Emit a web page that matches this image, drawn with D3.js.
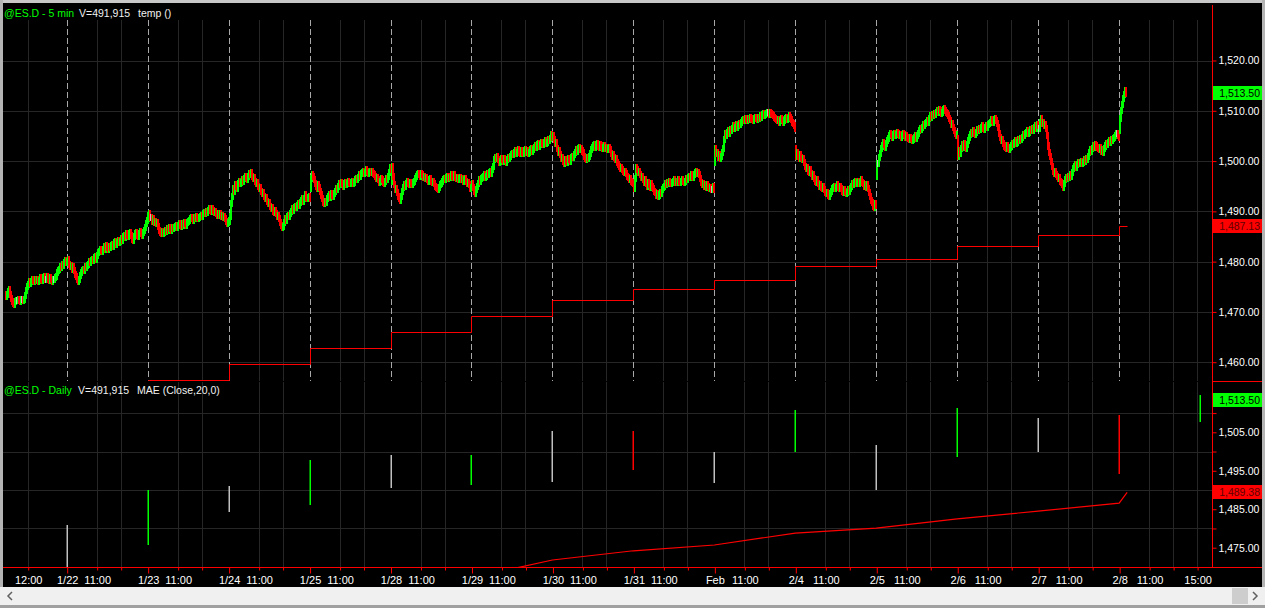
<!DOCTYPE html>
<html><head><meta charset="utf-8">
<script src="https://cdn.jsdelivr.net/npm/d3@7"></script>
<style>
html,body{margin:0;padding:0;background:#000;overflow:hidden}
svg{display:block}
text{font-family:"Liberation Sans",Arial,sans-serif}
</style></head><body>
<svg id="c" width="1265" height="608"></svg>
<script>
// ---------------- DATA ----------------
const sessionDays = ["1/21","1/22","1/23","1/24","1/25","1/28","1/29","1/30","1/31","Feb","2/4","2/5","2/6","2/7","2/8"];
const firstBar = [19,0,0,0,0,0,0,0,0,0,0,0,0,0,0];
const dayOpen = [1473.5,1480.0,1488.5,1488.0,1494.5,1496.0,1495.0,1504.75,1495.5,1499.75,1502.5,1497.0,1504.5,1506.5,1506.0];
const c0121 = [1473.0,1473.5,1474.0,1474.5,1473.5,1472.75,1472.0,1471.75,1471.5,1472.0,
1472.25,1472.25,1472.5,1472.25,1472.0,1472.5,1472.5,1472.25,1472.5,1473.25,
1474.25,1475.0,1475.5,1476.0,1475.75,1476.0,1476.5,1476.25,1476.0,1476.5,
1476.25,1476.5,1476.0,1476.25,1476.75,1476.5,1476.25,1476.75,1477.0,1476.5,
1476.5,1477.0,1476.5,1476.25,1476.75,1476.5,1476.0,1476.5,1476.5,1476.75,
1477.0,1477.75,1478.25,1478.5,1479.0,1478.75,1479.5,1479.25,1479.75,1480.25,1479.75,1480.0];
const c0122 = [1480.5,1479.5,1479.0,1479.25,1478.5,1479.0,1478.25,1477.5,1477.0,1476.5,
1476.0,1476.5,1477.25,1477.75,1478.25,1478.5,1478.25,1479.0,1478.75,1479.25,
1479.5,1480.0,1479.75,1480.25,1480.5,1480.25,1480.75,1481.0,1480.5,1481.25,
1481.75,1482.0,1482.5,1482.25,1482.0,1482.5,1483.0,1482.5,1483.25,1482.75,
1482.5,1483.0,1482.75,1483.25,1483.5,1483.0,1483.75,1484.0,1483.5,1483.75,
1484.25,1483.75,1484.0,1484.5,1484.25,1485.0,1485.25,1484.75,1485.5,1485.25,
1485.0,1485.5,1485.75,1485.25,1484.5,1484.25,1485.0,1485.5,1485.75,1485.25,
1485.0,1485.5,1486.0,1485.5,1485.25,1485.75,1486.25,1486.75,1487.5,1488.25,1489.25];
const c0123 = [1489.5,1488.75,1488.75,1488.0,1488.5,1487.75,1488.0,1487.5,1487.75,1487.0,
1486.25,1485.75,1485.5,1486.0,1485.5,1485.75,1486.25,1486.0,1486.5,1486.25,
1486.75,1486.5,1486.25,1486.75,1486.5,1486.75,1487.0,1487.25,1486.75,1487.25,
1487.5,1487.25,1487.0,1487.5,1487.25,1487.75,1487.5,1487.25,1487.75,1488.0,
1488.25,1488.5,1488.75,1488.5,1488.25,1488.75,1488.5,1489.0,1488.75,1488.5,
1488.75,1489.0,1489.25,1489.0,1489.5,1489.75,1489.5,1490.0,1489.75,1490.25,
1490.5,1490.25,1490.0,1490.5,1490.25,1489.75,1490.0,1489.5,1489.25,1489.5,
1489.25,1489.5,1489.0,1489.25,1488.75,1489.0,1488.5,1488.0,1487.5,1487.75,1488.25];
const c0124 = [1489.0,1491.5,1493.0,1494.5,1494.0,1495.25,1495.0,1494.5,1495.5,1496.0,
1495.5,1495.75,1496.25,1496.0,1496.5,1497.0,1496.75,1496.25,1497.0,1497.5,
1497.25,1497.75,1497.0,1496.5,1496.75,1496.0,1495.5,1495.75,1495.0,1494.5,
1494.75,1494.0,1493.5,1493.75,1493.0,1492.5,1492.75,1492.0,1491.5,1491.75,
1491.0,1490.5,1490.75,1490.0,1489.75,1490.25,1489.5,1489.0,1489.25,1488.5,
1487.75,1487.25,1486.75,1487.0,1487.75,1488.5,1488.25,1489.0,1489.25,1489.0,
1489.5,1490.0,1490.5,1490.25,1490.75,1491.0,1490.75,1491.25,1491.5,1491.25,
1491.75,1492.25,1492.5,1492.0,1492.5,1493.25,1492.75,1492.5,1492.75,1493.0,1492.5];
const c0125 = [1496.5,1497.25,1497.0,1496.25,1495.5,1495.0,1494.5,1495.25,1494.75,1494.0,
1493.25,1492.5,1491.75,1491.5,1492.0,1491.75,1492.5,1493.0,1493.25,1492.75,
1493.5,1493.25,1493.0,1493.5,1494.0,1494.5,1494.25,1495.0,1495.5,1495.25,
1495.75,1495.5,1495.0,1495.5,1495.75,1495.25,1495.5,1496.0,1495.75,1495.5,
1495.75,1496.0,1495.5,1495.75,1496.25,1496.5,1496.25,1496.75,1497.25,1497.0,
1497.5,1497.75,1498.0,1497.5,1497.75,1498.25,1498.0,1497.5,1497.75,1498.0,
1497.75,1498.0,1497.5,1497.25,1497.0,1496.5,1496.75,1496.25,1495.75,1496.0,
1496.5,1496.25,1495.75,1495.5,1496.0,1496.5,1496.25,1497.0,1497.75,1498.75,1498.25];
const c0128 = [1499.0,1497.0,1495.25,1494.25,1494.5,1493.75,1493.0,1492.5,1492.25,1493.0,
1494.0,1494.75,1495.25,1495.0,1495.5,1496.0,1495.5,1495.25,1495.75,1495.5,
1495.25,1495.75,1496.0,1496.5,1497.0,1497.25,1497.5,1497.25,1497.0,1497.5,
1497.25,1496.75,1497.0,1496.5,1496.75,1496.25,1496.0,1496.25,1496.5,1496.0,
1495.75,1496.0,1495.5,1495.0,1494.75,1494.5,1494.25,1494.75,1495.25,1495.5,
1496.0,1496.25,1496.5,1496.25,1496.75,1497.0,1496.5,1496.75,1497.0,1496.75,
1497.25,1497.0,1496.75,1497.25,1496.75,1496.5,1496.75,1496.25,1496.5,1496.75,
1496.25,1496.5,1496.0,1496.25,1496.5,1496.0,1495.5,1495.75,1495.25,1494.5,1494.75];
const c0129 = [1495.5,1494.75,1494.0,1493.5,1494.25,1495.0,1495.5,1496.25,1496.0,1496.5,
1496.75,1497.0,1497.25,1496.75,1497.0,1497.5,1497.25,1497.75,1498.0,1497.5,
1498.25,1499.0,1500.25,1500.75,1500.5,1501.0,1500.25,1499.75,1500.0,1500.5,
1500.25,1500.0,1500.5,1500.25,1499.75,1500.25,1500.75,1500.5,1501.0,1501.25,
1501.5,1501.25,1501.75,1502.0,1501.5,1501.75,1502.25,1501.75,1501.5,1502.0,
1501.75,1501.5,1502.0,1502.25,1501.75,1502.0,1501.5,1501.75,1502.25,1502.5,
1502.0,1502.25,1502.75,1503.0,1502.75,1503.25,1503.5,1503.0,1503.25,1503.75,
1503.5,1503.25,1503.75,1504.0,1503.5,1503.75,1504.25,1504.0,1504.5,1505.25,1504.75];
const c0130 = [1505.0,1504.25,1503.5,1503.75,1502.5,1501.75,1502.0,1501.25,1500.5,1500.75,
1500.0,1499.5,1500.25,1500.0,1499.75,1500.5,1500.25,1500.0,1500.75,1501.0,
1500.75,1501.25,1501.75,1502.25,1502.0,1502.5,1502.75,1502.25,1502.5,1502.0,
1501.75,1501.0,1500.5,1500.25,1500.75,1500.5,1501.0,1501.5,1502.25,1502.75,
1503.0,1503.25,1502.75,1503.25,1503.5,1503.0,1502.75,1503.25,1503.0,1502.5,
1502.75,1503.0,1502.5,1502.75,1502.25,1502.5,1502.75,1502.25,1501.5,1501.0,
1501.25,1500.75,1500.25,1500.5,1499.75,1499.25,1499.0,1498.5,1498.75,1498.25,
1498.0,1497.75,1498.0,1497.5,1497.0,1496.75,1496.25,1496.5,1496.0,1495.75,1495.5];
const c0131 = [1494.5,1496.5,1498.75,1498.25,1497.75,1498.0,1497.25,1496.75,1497.0,1496.25,
1495.75,1496.25,1495.5,1495.0,1495.75,1495.25,1494.75,1495.5,1495.0,1494.5,
1494.0,1493.75,1493.25,1493.5,1493.0,1493.25,1493.75,1493.5,1494.25,1494.75,
1495.0,1495.5,1495.25,1495.75,1495.5,1496.0,1495.75,1495.5,1495.75,1496.0,
1496.25,1495.75,1496.0,1495.75,1496.25,1496.0,1495.75,1496.0,1496.25,1496.0,
1495.75,1496.0,1496.5,1496.25,1496.75,1497.0,1496.75,1497.25,1497.0,1496.75,
1497.25,1497.75,1498.0,1497.5,1497.75,1497.25,1496.5,1495.75,1495.25,1495.5,
1495.0,1495.25,1494.75,1495.25,1495.0,1494.5,1494.75,1494.25,1494.25,1495.0,1494.25];
const c0201 = [1502.5,1501.5,1501.75,1500.75,1501.25,1500.5,1501.0,1501.75,1502.5,1504.25,
1505.5,1505.0,1505.75,1506.0,1505.5,1506.25,1506.0,1506.5,1507.0,1506.5,
1506.75,1507.25,1506.75,1507.0,1507.5,1507.25,1507.75,1508.0,1508.25,1508.0,
1508.5,1508.25,1508.0,1508.5,1508.25,1508.75,1508.5,1508.25,1508.0,1508.5,
1508.75,1508.5,1508.25,1508.75,1508.5,1509.0,1508.75,1509.25,1509.5,1509.0,
1509.25,1509.5,1509.75,1509.75,1509.25,1509.75,1509.5,1509.25,1509.0,1508.75,
1508.5,1508.25,1508.0,1508.25,1507.75,1508.0,1508.5,1508.25,1507.75,1508.0,
1508.5,1508.75,1508.25,1508.5,1509.0,1508.75,1508.25,1507.75,1507.5,1507.0,1506.5];
const c0204 = [1501.0,1501.75,1501.0,1500.5,1501.25,1500.75,1500.25,1500.5,1499.75,1499.0,
1498.5,1498.75,1498.0,1497.75,1498.25,1497.5,1497.0,1497.25,1496.5,1496.0,
1495.75,1496.25,1495.5,1495.0,1495.25,1494.75,1494.5,1495.0,1494.25,1493.75,
1493.5,1493.75,1493.25,1493.0,1493.5,1494.0,1494.5,1494.75,1495.0,1494.5,
1494.75,1495.25,1494.75,1494.5,1495.0,1494.5,1494.0,1493.75,1494.25,1494.0,
1493.5,1493.75,1494.25,1494.0,1494.5,1495.0,1495.5,1495.25,1495.75,1496.0,
1495.5,1495.75,1496.0,1495.5,1495.75,1496.25,1495.75,1495.5,1495.0,1495.25,
1494.75,1495.25,1494.5,1493.75,1493.0,1492.25,1491.75,1491.0,1490.75,1491.5,1491.25];
const c0205 = [1499.5,1499.5,1500.75,1501.5,1502.5,1503.0,1503.75,1503.25,1502.75,1503.5,
1504.0,1504.5,1505.0,1505.5,1505.25,1504.75,1505.25,1505.5,1505.0,1505.25,
1505.75,1505.5,1505.0,1505.25,1504.75,1505.0,1505.5,1505.25,1504.75,1505.0,
1504.75,1504.5,1504.25,1504.75,1504.5,1504.0,1504.25,1504.75,1505.0,1504.5,
1505.0,1505.5,1506.0,1506.5,1506.25,1506.75,1507.25,1507.0,1507.5,1507.75,
1508.0,1507.75,1508.5,1509.0,1508.75,1509.25,1509.0,1509.5,1509.25,1509.75,
1510.0,1509.75,1510.25,1510.0,1509.5,1509.75,1510.25,1510.5,1510.0,1509.75,
1509.5,1509.0,1508.5,1508.0,1507.25,1507.5,1506.75,1506.0,1505.5,1505.0,1505.25];
const c0206 = [1501.0,1502.0,1501.5,1502.5,1503.25,1502.75,1503.5,1503.0,1502.5,1503.25,
1504.0,1504.75,1505.25,1505.75,1505.5,1506.0,1505.5,1505.25,1505.75,1506.25,
1506.0,1506.5,1506.25,1506.75,1507.0,1506.5,1506.25,1506.75,1507.0,1506.75,
1507.25,1507.5,1507.75,1508.25,1508.0,1507.75,1508.25,1508.5,1508.0,1507.5,
1506.75,1505.5,1504.75,1504.0,1504.25,1503.5,1503.0,1502.75,1502.5,1503.0,
1502.5,1502.25,1502.75,1503.0,1503.5,1503.25,1503.75,1504.0,1503.5,1503.75,
1504.25,1504.0,1504.5,1504.25,1504.75,1505.25,1505.0,1505.5,1505.75,1506.0,
1505.5,1505.75,1506.25,1506.0,1506.5,1506.0,1506.75,1507.0,1506.5,1507.25,1507.0];
const c0207 = [1506.5,1507.75,1508.5,1507.5,1507.75,1507.0,1507.25,1506.5,1505.0,1503.0,
1501.75,1501.0,1500.0,1499.0,1498.0,1497.5,1498.0,1497.25,1497.0,1496.5,
1496.75,1496.0,1495.75,1495.25,1494.75,1495.5,1496.25,1496.75,1496.5,1497.0,
1496.75,1497.25,1497.0,1497.75,1498.5,1499.0,1499.25,1498.75,1499.25,1499.75,
1499.5,1499.75,1500.0,1499.5,1499.75,1500.25,1500.0,1500.5,1500.25,1501.0,
1501.75,1502.25,1502.0,1502.5,1503.0,1502.75,1503.25,1503.0,1502.75,1502.5,
1502.25,1502.75,1502.0,1502.25,1501.75,1502.5,1503.0,1503.5,1503.25,1503.75,
1504.0,1503.75,1504.25,1504.0,1504.5,1504.75,1505.0,1505.5,1505.5,1505.0,1504.75];
const c0208 = [1508.5,1510.0,1511.25,1512.5,1513.25,1514.0,1513.5];
const closes = [c0121,c0122,c0123,c0124,c0125,c0128,c0129,c0130,c0131,c0201,c0204,c0205,c0206,c0207,c0208];

// "temp" step indicator (top panel), one value per session from 1/22
const tempValues = [1453.2,1456.4,1459.6,1462.8,1466.0,1469.2,1472.3,1474.5,1476.3,1479.1,1480.5,1483.1,1485.3,1487.13];

// Daily bars (bottom panel), one per session in sessionDays
const dailyHigh  = [1481.0,1490.0,1491.0,1497.8,1499.1,1499.1,1505.3,1505.3,1499.9,1510.8,1501.7,1511.3,1508.7,1509.5,1514.7];
const dailyLow   = [1468.0,1475.8,1484.3,1486.1,1490.5,1491.3,1492.1,1495.2,1491.8,1499.9,1490.0,1498.6,1499.9,1494.2,1507.7];
const dailyColor = ["n","u","n","u","n","u","n","d","n","u","n","u","n","d","u"];
// MAE (Close,20,0): daily values from 1/28 to 2/7, then current intraday value
const maeValues = [1467.2,1471.8,1474.2,1475.7,1478.8,1480.1,1482.5,1484.5,1486.6,1489.38];

const topTicks = [1460,1470,1480,1490,1500,1510,1520];
const botLabelTicks = [1475,1485,1495,1505];
const botMinorTicks = [1480,1490,1500,1510];

// ---------------- LAYOUT ----------------
const W = 1265, H = 608;
const axisX = 1212;
const topY0 = 5, plotTop = 20, topY1 = 381, botY0 = 382, botY1 = 567;
const BARS = 81;
const colUp = "#00ff00", colDn = "#ff0000", colEq = "#c0c0c0";
const colorOf = {u: colUp, d: colDn, n: colEq};
const gridCol = "#262626";

const svg = d3.select("#c");
svg.append("rect").attr("width", W).attr("height", H).attr("fill", "#000");

const x = d3.scaleLinear().domain([0, 13*BARS]).range([66.7, 1119.15]);
const yT = d3.scaleLinear().domain([1460, 1520]).range([362.2, 60.5]);
const yB = d3.scaleLinear().domain([1475, 1505]).range([547.7, 432.3]);
const pos = (d, i) => (d - 1) * BARS + i; // d = index into sessionDays (0 = 1/21)
const px = v => Math.round(v) + 0.5;

const defs = svg.append("defs");
defs.append("clipPath").attr("id","clipT").append("rect").attr("x",3).attr("y",plotTop).attr("width",axisX-3).attr("height",topY1-plotTop);
defs.append("clipPath").attr("id","clipB").append("rect").attr("x",3).attr("y",botY0).attr("width",axisX-3).attr("height",botY1-botY0);

// tick positions on the time axis
const dateTicks = sessionDays.slice(1).map((d, k) => ({p: pos(k+1, 0), t: d}));
const timeTicks = [{p: pos(0,42), t: "12:00"}];
for (let d = 1; d < sessionDays.length; d++) {
  timeTicks.push({p: pos(d,30), t: "11:00"});
  timeTicks.push({p: pos(d,54), t: ""});
}
timeTicks.push({p: pos(14,78), t: "15:00"});

// ---- grids ----
const gT = svg.append("g").attr("clip-path","url(#clipT)");
const gB = svg.append("g").attr("clip-path","url(#clipB)");
gT.selectAll("line.h").data(topTicks).join("line")
  .attr("x1",3).attr("x2",axisX).attr("y1",d=>px(yT(d))).attr("y2",d=>px(yT(d)))
  .attr("stroke",gridCol);
[gT,gB].forEach(g => g.selectAll("line.v").data(timeTicks).join("line")
  .attr("x1",d=>px(x(d.p))).attr("x2",d=>px(x(d.p)))
  .attr("y1",0).attr("y2",H).attr("stroke",gridCol));
gB.selectAll("line.h").data(botMinorTicks).join("line")
  .attr("x1",3).attr("x2",axisX).attr("y1",d=>px(yB(d))).attr("y2",d=>px(yB(d)))
  .attr("stroke",gridCol);
gT.selectAll("line.sep").data(dateTicks).join("line")
  .attr("x1",d=>px(x(d.p))).attr("x2",d=>px(x(d.p)))
  .attr("y1",plotTop).attr("y2",topY1).attr("stroke","#a8a8a8").attr("stroke-dasharray","6,3");

// ---- 5 min bars ----
const bars = [];
closes.forEach((arr, d) => {
  arr.forEach((c, k) => {
    const i = firstBar[d] + k;
    const o = k === 0 ? dayOpen[d] : arr[k-1];
    bars.push({p: pos(d,i), o, c});
  });
});
const wick = 0.7;
gT.selectAll("rect.bar").data(bars).join("rect")
  .attr("x", d => Math.round(x(d.p)))
  .attr("width", 2)
  .attr("y", d => Math.round(yT(Math.max(d.o,d.c) + wick)))
  .attr("height", d => Math.round(yT(Math.min(d.o,d.c) - wick)) - Math.round(yT(Math.max(d.o,d.c) + wick)))
  .attr("fill", d => d.c > d.o ? colUp : (d.c < d.o ? colDn : colEq));

// temp step line
const tempPts = tempValues.map((v,k) => [Math.round(x(pos(k+1,0)))+0.5, px(yT(v))]);
tempPts.push([Math.round(x(bars[bars.length-1].p))+2.5, px(yT(tempValues[tempValues.length-1]))]);
gT.append("path").attr("d", d3.line().curve(d3.curveStepAfter)(tempPts))
  .attr("fill","none").attr("stroke",colDn).attr("stroke-width",1);

// ---- daily bars ----
const daily = dailyHigh.map((h,k) => ({p: pos(k+1,0), h, l: dailyLow[k], c: dailyColor[k]}));
gB.selectAll("rect.d").data(daily).join("rect")
  .attr("x", d => Math.round(x(d.p)) - 0.5)
  .attr("width", 1.5)
  .attr("y", d => Math.round(yB(d.h)))
  .attr("height", d => Math.round(yB(d.l)) - Math.round(yB(d.h)))
  .attr("fill", d => colorOf[d.c]);
// MAE line
const maePts = maeValues.map((v,k) => [x(k < maeValues.length-1 ? pos(k+6,0) : bars[bars.length-1].p + 2), yB(v)]);
gB.append("path").attr("d", d3.line()(maePts)).attr("fill","none").attr("stroke",colDn).attr("stroke-width",1.2);

// ---- axis frame lines ----
svg.append("line").attr("x1",axisX+0.5).attr("x2",axisX+0.5).attr("y1",topY0).attr("y2",botY1).attr("stroke",colDn);
svg.append("line").attr("x1",axisX).attr("x2",W).attr("y1",topY1+0.5).attr("y2",topY1+0.5).attr("stroke",colDn);
svg.append("line").attr("x1",3).attr("x2",W).attr("y1",botY1+0.5).attr("y2",botY1+0.5).attr("stroke",colDn);

// ---- price axes ----
const fmt = d3.format(",.2f");
function styleAxis(g, fs){
  g.select(".domain").remove();
  g.selectAll(".tick line").attr("stroke",colDn);
  g.selectAll(".tick text").attr("fill","#ffffff").attr("font-size",fs||"11px").attr("font-family",'"Liberation Sans",Arial,sans-serif');
}
svg.append("g").attr("transform",`translate(${axisX+0.5},0)`)
  .call(d3.axisRight(yT).tickValues(topTicks).tickFormat(fmt).tickSize(4).tickPadding(2))
  .call(g => styleAxis(g,"10.5px"));
svg.append("g").attr("transform",`translate(${axisX+0.5},0)`)
  .call(d3.axisRight(yB).tickValues(botLabelTicks).tickFormat(fmt).tickSize(4).tickPadding(2))
  .call(g => styleAxis(g,"10.5px"));
svg.append("g").attr("transform",`translate(${axisX+0.5},0)`)
  .call(d3.axisRight(yB).tickValues(botMinorTicks.filter(v=>v!==1490)).tickFormat("").tickSize(4))
  .call(g => styleAxis(g));

// ---- time axis ----
svg.append("g").attr("transform",`translate(0.5,${botY1+0.5})`)
  .call(d3.axisBottom(x).tickValues(dateTicks.map(d=>d.p)).tickFormat((d,k)=>dateTicks[k].t).tickSize(6).tickPadding(3))
  .call(g => styleAxis(g));
svg.append("g").attr("transform",`translate(0.5,${botY1+0.5})`)
  .call(d3.axisBottom(x).tickValues(timeTicks.map(d=>d.p)).tickFormat((d,k)=>timeTicks[k].t).tickSize(3).tickPadding(6))
  .call(g => styleAxis(g));

// ---- last-value labels ----
function valueBox(yv, txt, bg, fg){
  const yc = Math.round(yv);
  svg.append("rect").attr("x",axisX+1).attr("y",yc-7).attr("width",W-axisX-4).attr("height",14).attr("fill",bg);
  svg.append("text").attr("x",W-5).attr("y",yc+4).attr("text-anchor","end")
    .attr("font-size","10.5px").attr("fill",fg).text(txt);
}
valueBox(yT(1513.5), "1,513.50", colUp, "#000");
valueBox(yT(1487.13), "1,487.13", colDn, "#600000");
valueBox(yB(1513.5), "1,513.50", colUp, "#000");
valueBox(yB(1489.38), "1,489.38", colDn, "#600000");

// ---- headers ----
function header(y, parts){
  parts.forEach(([tx, xx, col]) => svg.append("text").attr("x",xx).attr("y",y)
    .attr("font-size","10.5px").attr("fill",col).text(tx));
}
header(17, [["@ES.D - 5 min",4,colUp],["V=491,915",79,"#f0f0f0"],["temp ()",138,"#f0f0f0"]]);
header(394, [["@ES.D - Daily",4,colUp],["V=491,915",78,"#f0f0f0"],["MAE (Close,20,0)",137,"#f0f0f0"]]);

// ---- window chrome ----
svg.append("rect").attr("x",0).attr("y",0).attr("width",W).attr("height",3).attr("fill","#c8c8c8");
svg.append("rect").attr("x",0).attr("y",0).attr("width",3).attr("height",H).attr("fill","#b4b4b4");
svg.append("rect").attr("x",W-3).attr("y",0).attr("width",3).attr("height",H).attr("fill","#b4b4b4");
svg.append("rect").attr("x",0).attr("y",587).attr("width",W).attr("height",18).attr("fill","#f0f0f0");
svg.append("rect").attr("x",0).attr("y",605).attr("width",W).attr("height",3).attr("fill","#a0a0a0");
svg.append("rect").attr("x",1232).attr("y",588).attr("width",16).attr("height",16).attr("fill","#cdcdcd");
svg.append("path").attr("d","M12,592 L8,596 L12,600").attr("fill","none").attr("stroke","#606060").attr("stroke-width",1.5);
svg.append("path").attr("d","M1253,592 L1257,596 L1253,600").attr("fill","none").attr("stroke","#606060").attr("stroke-width",1.5);
</script></body></html>
